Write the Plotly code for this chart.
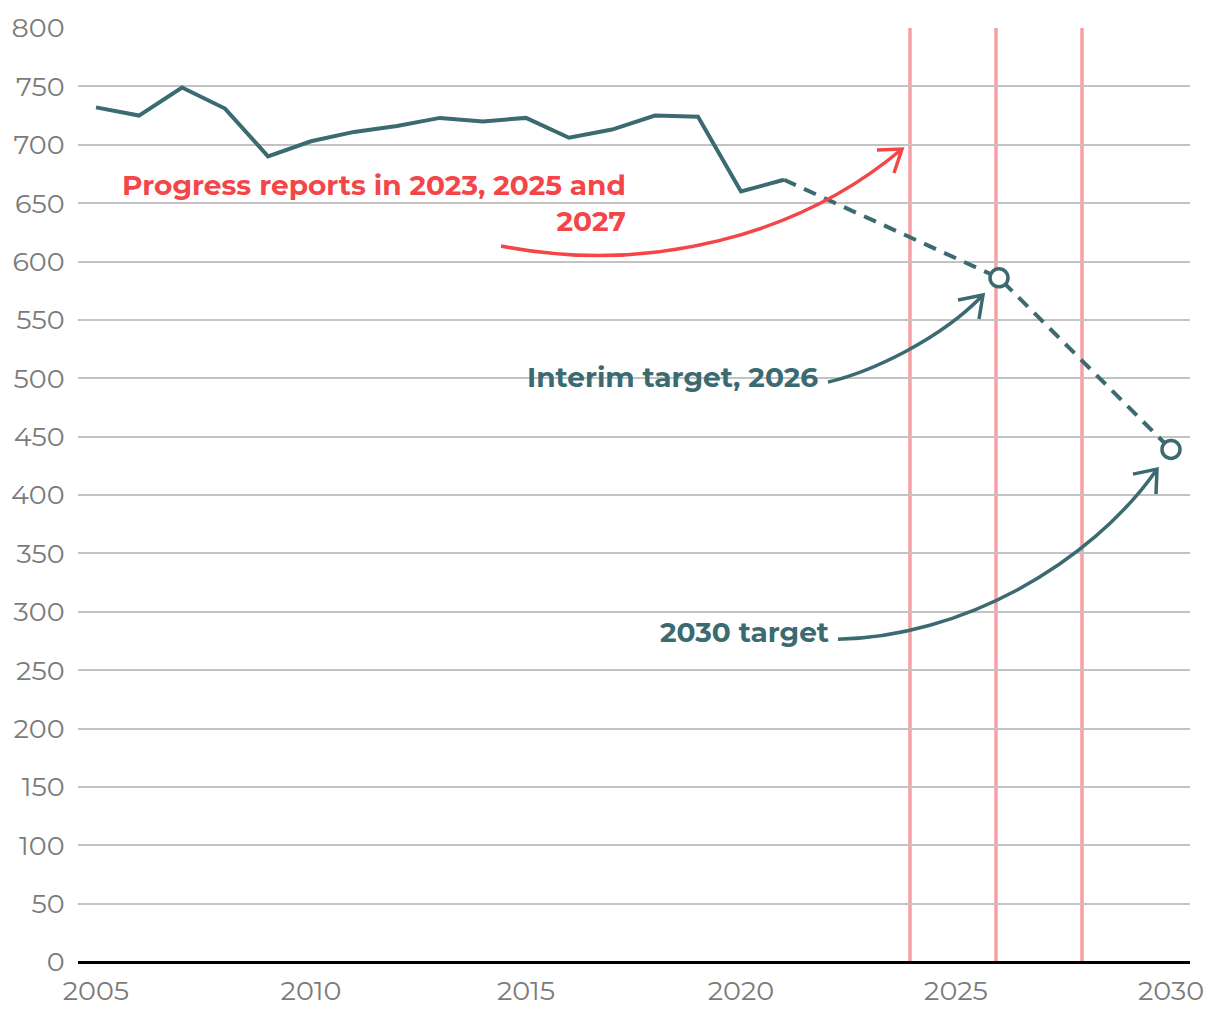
import plotly.graph_objects as go

# ---- data ----
years = [2005, 2006, 2007, 2008, 2009, 2010, 2011, 2012, 2013, 2014, 2015,
         2016, 2017, 2018, 2019, 2020, 2021]
emissions = [732, 725, 749, 731, 690, 703, 711, 716, 723, 720, 723,
             706, 713, 725, 724, 660, 670]
target_years = [2021, 2026, 2030]
target_values = [670, 586, 439]
marker_years = [2026, 2030]
marker_values = [586, 439]
report_line_years = [2023.93, 2025.93, 2027.93]
x_ticks = [2005, 2010, 2015, 2020, 2025, 2030]
y_ticks = list(range(0, 801, 50))

TEAL = "#3b6a71"
RED = "#f44548"
PINK = "#f6a0a3"
GREY = "#7b7b7b"
FONT = "Montserrat, 'Open Sans', 'Noto Sans', sans-serif"

# pixel helpers for annotation geometry (window px: x 2005->96px, 43px/yr; y 0->961.7px, 1.1671px/unit)
def X(px):
    return 2005 + (px - 96) / 43.0

def Y(py):
    return (961.7 - py) / 1.1671

def pt(p):
    return f"{X(p[0]):.4f},{Y(p[1]):.4f}"

def cubic(p0, c1, c2, p3):
    return f"M {pt(p0)} C {pt(c1)} {pt(c2)} {pt(p3)}"

def head(a1, tip, a2):
    return f"M {pt(a1)} L {pt(tip)} L {pt(a2)}"

fig = go.Figure()

fig.add_trace(go.Scatter(x=years, y=emissions, mode="lines",
                         line=dict(color=TEAL, width=4), hoverinfo="skip"))
fig.add_trace(go.Scatter(x=target_years, y=target_values, mode="lines",
                         line=dict(color=TEAL, width=4, dash="13px,9px"), hoverinfo="skip"))
fig.add_trace(go.Scatter(x=marker_years, y=marker_values, mode="markers",
                         marker=dict(size=18, color="white", line=dict(color=TEAL, width=3.5)),
                         hoverinfo="skip"))

shapes = []
for ry in report_line_years:
    shapes.append(dict(type="line", xref="x", yref="paper", x0=ry, x1=ry, y0=0, y1=1,
                       line=dict(color=PINK, width=3.5), layer="below"))

arrows = [
    (RED, cubic((501, 246), (650, 275), (800, 235), (902, 149)),
     head((877, 150), (902, 149), (894, 173))),
    (TEAL, cubic((828, 382), (870, 372), (940, 340), (983, 295)),
     head((958, 300), (983, 295), (979, 319))),
    (TEAL, cubic((838, 639), (960, 637), (1090, 565), (1157, 469)),
     head((1133, 474), (1157, 469), (1156, 494))),
]
for col, curve, hd in arrows:
    shapes.append(dict(type="path", xref="x", yref="y", path=curve,
                       line=dict(color=col, width=3.5), layer="above"))
    shapes.append(dict(type="path", xref="x", yref="y", path=hd,
                       line=dict(color=col, width=3.5), layer="above"))

annotations = [
    dict(x=X(628), y=Y(203), xref="x", yref="y", xanchor="right", yanchor="middle",
         text="<b>Progress reports in 2023, 2025 and<br>2027</b>", align="right",
         showarrow=False, font=dict(family=FONT, size=28, color=RED)),
    dict(x=X(820), y=Y(377), xref="x", yref="y", xanchor="right", yanchor="middle",
         text="<b>Interim target, 2026</b>", showarrow=False,
         font=dict(family=FONT, size=28, color=TEAL)),
    dict(x=X(831), y=Y(632), xref="x", yref="y", xanchor="right", yanchor="middle",
         text="<b>2030 target</b>", showarrow=False,
         font=dict(family=FONT, size=28, color=TEAL)),
]

# page body has an 8px default margin, so the figure is offset by 8px
fig.update_layout(
    width=1212, height=1012,
    margin=dict(l=70, r=30, t=20, b=58, autoexpand=False),
    paper_bgcolor="white", plot_bgcolor="white",
    showlegend=False,
    font=dict(family=FONT, color=GREY, size=27),
    shapes=shapes, annotations=annotations,
    xaxis=dict(range=[X(78), X(1190)], tickvals=x_ticks, showgrid=False, automargin=False,
               zeroline=False, showline=False, ticks="outside", ticklen=5,
               tickcolor="rgba(0,0,0,0)", tickfont=dict(size=27, color=GREY, family=FONT)),
    yaxis=dict(range=[0, 800], tickvals=y_ticks, showgrid=True, gridcolor="#c3c3c3",
               automargin=False,
               gridwidth=2, zeroline=True, zerolinecolor="black", zerolinewidth=2.5,
               showline=False, ticks="outside", ticklen=7, tickcolor="rgba(0,0,0,0)",
               tickfont=dict(size=27, color=GREY, family=FONT)),
)

fig.write_html("out.html")
